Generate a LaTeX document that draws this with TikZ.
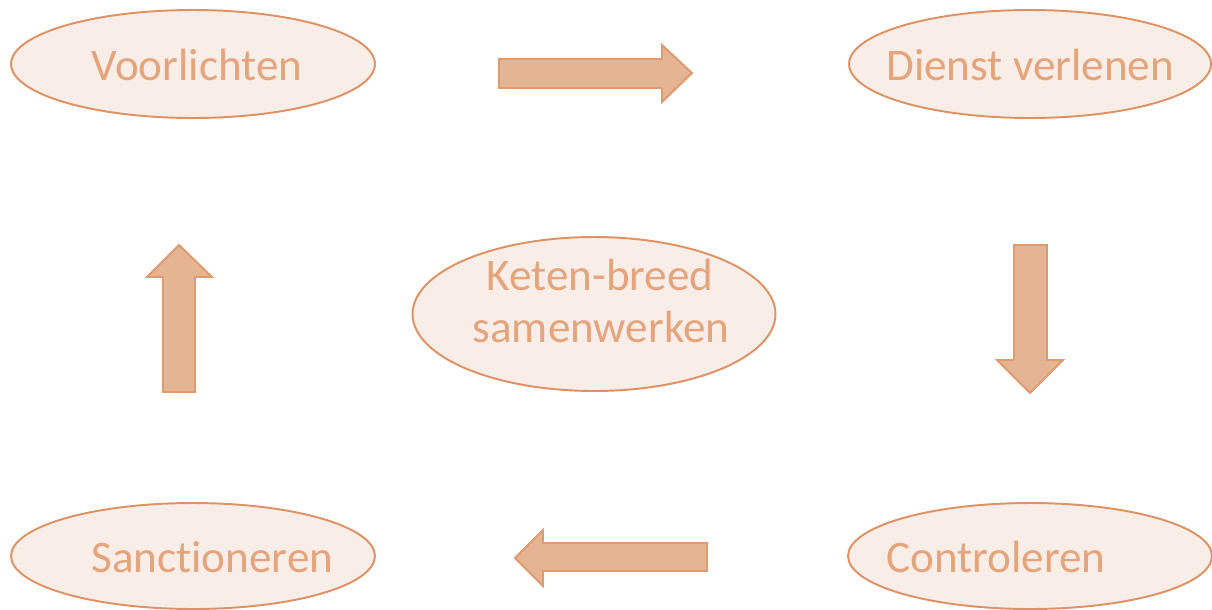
\documentclass[tikz,border=0pt]{standalone}
\usepackage{fontspec}
\setmainfont[Ligatures=NoCommon]{Carlito}
\usetikzlibrary{shapes.geometric}
\definecolor{efill}{RGB}{249,237,231}
\definecolor{edraw}{RGB}{222,145,98}
\definecolor{etext}{RGB}{228,164,124}
\definecolor{afill}{RGB}{229,180,147}
\definecolor{adraw}{RGB}{223,154,110}
\tikzset{
  oval/.style={ellipse, draw=edraw, fill=efill, line width=1.1pt, inner sep=0pt},
  lbl/.style={text=etext, font=\fontsize{25.7}{29.5}\selectfont, inner sep=0pt},
  blockarrow/.style={fill=afill, draw=adraw, line width=1.1pt, line join=miter}
}
\begin{document}
\begin{tikzpicture}[x=0.02cm, y=-0.02cm]
\useasboundingbox[fill=white] (0,0) rectangle (1212,609);
% ellipses
\node[oval, minimum width=7.28cm, minimum height=2.16cm] (voor) at (193,64) {};
\node[oval, minimum width=7.24cm, minimum height=2.16cm] (dienst) at (1030,64) {};
\node[oval, minimum width=7.26cm, minimum height=3.08cm] (keten) at (594,314) {};
\node[oval, minimum width=7.28cm, minimum height=2.12cm] (sanc) at (193,556) {};
\node[oval, minimum width=7.28cm, minimum height=2.12cm] (contr) at (1030,556) {};
% labels
\node[lbl, anchor=base west] (tvoor) at (91,80) {Voorlichten};
\node[lbl, anchor=base west] (tdienst) at (886,80) {Dienst verlenen};
\node[lbl, anchor=base west] (tsanc) at (91,572) {Sanctioneren};
\node[lbl, anchor=base west] (tcontr) at (886,572) {Controleren};
\node[lbl, anchor=base] (tketen1) at (600,290) {Keten-breed};
\node[lbl, anchor=base] (tketen2) at (601,342) {samenwerken};
% block arrows
\draw[blockarrow] (499,59) -- (662,59) -- (662,45) -- (692,73) -- (662,102) -- (662,88) -- (499,88) -- cycle;
\draw[blockarrow] (1014,245) -- (1047,245) -- (1047,360) -- (1063,360) -- (1030,393) -- (997,360) -- (1014,360) -- cycle;
\draw[blockarrow] (707,543) -- (543,543) -- (543,530) -- (515,558) -- (543,586) -- (543,571) -- (707,571) -- cycle;
\draw[blockarrow] (163,392) -- (163,277) -- (147,277) -- (179,245) -- (212,277) -- (195,277) -- (195,392) -- cycle;
\end{tikzpicture}
\end{document}
